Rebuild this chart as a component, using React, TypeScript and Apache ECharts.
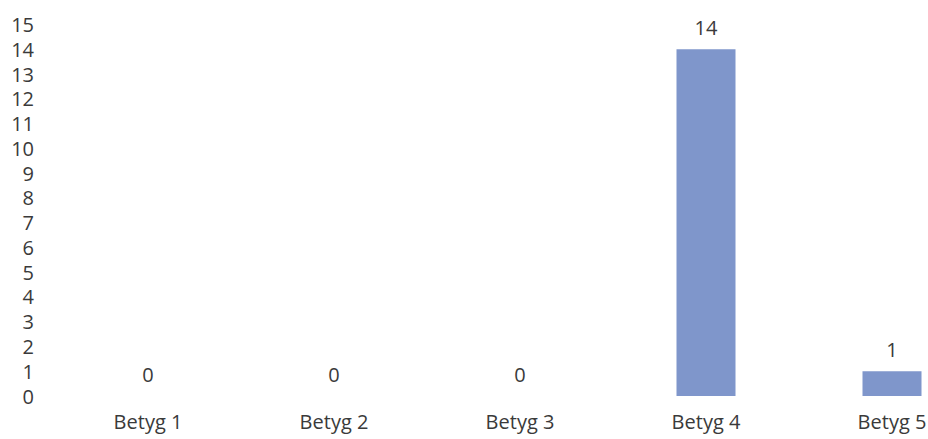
import React, { useEffect, useRef } from "react";
import * as echarts from "echarts";

const categories = ["Betyg 1", "Betyg 2", "Betyg 3", "Betyg 4", "Betyg 5"];
const counts = [0, 0, 0, 14, 1];
const yTicks = [0, 15, 1];

const FONT = "'Open Sans', 'Liberation Sans', sans-serif";
const TEXT = "#3a3a3a";
const FONT_SIZE = 20;

export default function App() {
  const ref = useRef<HTMLDivElement>(null);

  useEffect(() => {
    if (!ref.current) return;
    const chart = echarts.init(ref.current, null, { renderer: "svg" });
    chart.setOption({
      animation: false,
      backgroundColor: "#ffffff",
      // the plot runs past the right edge of the visible frame
      grid: { left: 55, top: 24.5, right: 15, bottom: 43, containLabel: false },
      xAxis: {
        type: "category",
        data: categories,
        axisLine: { show: false },
        axisTick: { show: false },
        axisLabel: { color: TEXT, fontFamily: FONT, fontSize: FONT_SIZE, margin: 15 },
      },
      yAxis: {
        type: "value",
        min: yTicks[0],
        max: yTicks[1],
        interval: yTicks[2],
        splitLine: { show: false },
        axisLine: { show: false },
        axisTick: { show: false },
        axisLabel: { color: TEXT, fontFamily: FONT, fontSize: FONT_SIZE, margin: 21, align: "right" },
      },
      series: [
        {
          type: "bar",
          data: counts,
          barWidth: 59,
          itemStyle: { color: "#7f96cb" },
          label: {
            show: true,
            position: "top",
            distance: 12,
            color: TEXT,
            fontFamily: FONT,
            fontSize: FONT_SIZE,
          },
        },
      ],
    });
    return () => chart.dispose();
  }, []);

  return (
    <div
      style={{
        position: "fixed",
        left: 0,
        top: 0,
        width: 928,
        height: 439,
        overflow: "hidden",
        background: "#ffffff",
      }}
    >
      <div ref={ref} style={{ width: 1000, height: 439 }} />
    </div>
  );
}
